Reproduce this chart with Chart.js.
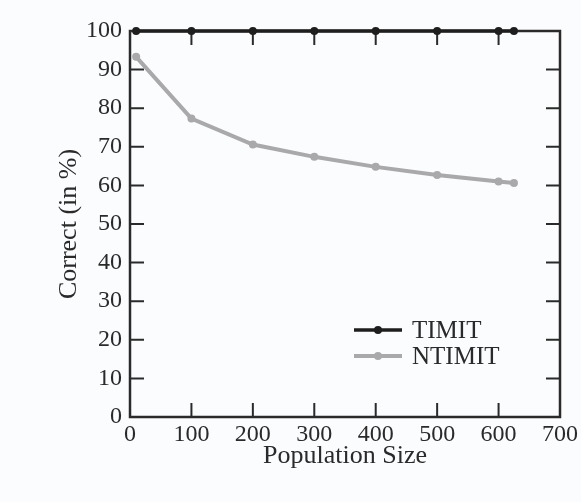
<!DOCTYPE html>
<html>
<head>
<meta charset="utf-8">
<script src="https://cdn.jsdelivr.net/npm/chart.js@4/dist/chart.umd.min.js"></script>
<style>
  html, body { margin: 0; padding: 0; background: #fbfcfe; }
  #wrap { position: relative; width: 581px; height: 502px; }
</style>
</head>
<body>
<div id="wrap"><canvas id="chart"></canvas></div>
<script>
// population sizes tested (x) and recognition rates (y, %)
const populationSizes = [10, 100, 200, 300, 400, 500, 600, 625];
const timitCorrect = [100, 100, 100, 100, 100, 100, 100, 100];
const ntimitCorrect = [93.3, 77.3, 70.6, 67.4, 64.8, 62.7, 61.0, 60.6];

const SERIF = "'Liberation Serif', 'Times New Roman', serif";
const INK = '#2a2a2a';

function toPoints(ys) {
  return populationSizes.map((x, i) => ({ x, y: ys[i] }));
}

// background + boxed frame with inward ticks on all four sides
const framePlugin = {
  id: 'frame',
  beforeDraw(chart) {
    const { ctx, width, height } = chart;
    ctx.save();
    ctx.fillStyle = '#fbfcfe';
    ctx.fillRect(0, 0, width, height);
    ctx.restore();
  },
  beforeDatasetsDraw(chart) {
    const { ctx, chartArea: a, scales: { x, y } } = chart;
    const len = 14;
    ctx.save();
    ctx.strokeStyle = INK;
    ctx.lineWidth = 2;
    ctx.beginPath();
    x.ticks.forEach((t) => {
      const px = x.getPixelForValue(t.value);
      ctx.moveTo(px, a.bottom); ctx.lineTo(px, a.bottom - len);
      ctx.moveTo(px, a.top); ctx.lineTo(px, a.top + len);
    });
    y.ticks.forEach((t) => {
      const py = y.getPixelForValue(t.value);
      ctx.moveTo(a.left, py); ctx.lineTo(a.left + len, py);
      ctx.moveTo(a.right, py); ctx.lineTo(a.right - len, py);
    });
    ctx.stroke();
    ctx.lineWidth = 2.5;
    ctx.strokeRect(a.left, a.top, a.right - a.left, a.bottom - a.top);
    ctx.restore();
  },
};

// legend drawn inside the plot, line with centred marker like the original
const legendPlugin = {
  id: 'innerLegend',
  afterDatasetsDraw(chart) {
    const { ctx, chartArea: a } = chart;
    const x0 = a.right - 206, x1 = a.right - 158;
    ctx.save();
    ctx.font = `25px ${SERIF}`;
    ctx.textBaseline = 'middle';
    chart.data.datasets.forEach((ds, i) => {
      const yy = a.bottom - 87 + i * 26;
      ctx.strokeStyle = ds.borderColor;
      ctx.lineWidth = ds.borderWidth;
      ctx.beginPath();
      ctx.moveTo(x0, yy); ctx.lineTo(x1, yy);
      ctx.stroke();
      ctx.fillStyle = ds.pointBackgroundColor;
      ctx.beginPath();
      ctx.arc((x0 + x1) / 2, yy, ds.pointRadius, 0, Math.PI * 2);
      ctx.fill();
      ctx.fillStyle = INK;
      ctx.fillText(ds.label, x1 + 10, yy + 1);
    });
    ctx.restore();
  },
};

new Chart(document.getElementById('chart'), {
  type: 'line',
  data: {
    datasets: [
      {
        label: 'TIMIT',
        data: toPoints(timitCorrect),
        borderColor: '#1e1e1e',
        backgroundColor: '#1e1e1e',
        pointBackgroundColor: '#1e1e1e',
        borderWidth: 3.5,
        pointRadius: 4,
        pointBorderWidth: 0,
        tension: 0,
        clip: false,
      },
      {
        label: 'NTIMIT',
        data: toPoints(ntimitCorrect),
        borderColor: '#a9a9ab',
        backgroundColor: '#a9a9ab',
        pointBackgroundColor: '#a9a9ab',
        borderWidth: 4,
        pointRadius: 4,
        pointBorderWidth: 0,
        tension: 0,
        clip: false,
      },
    ],
  },
  options: {
    responsive: true,
    maintainAspectRatio: false,
    animation: false,
    layout: { padding: { left: 50, right: 20, top: 31, bottom: 26 } },
    plugins: { legend: { display: false }, tooltip: { enabled: false } },
    scales: {
      x: {
        type: 'linear',
        min: 0,
        max: 700,
        grid: { display: false, drawTicks: false },
        border: { display: false },
        ticks: { stepSize: 100, color: INK, padding: 3, font: { family: SERIF, size: 24 } },
        title: {
          display: true,
          text: 'Population Size',
          color: INK,
          font: { family: SERIF, size: 26 },
          padding: { top: 0, bottom: 4 },
        },
        afterFit(scale) { scale.height = 59; },
      },
      y: {
        min: 0,
        max: 100,
        grid: { display: false, drawTicks: false },
        border: { display: false },
        ticks: { stepSize: 10, color: INK, padding: 8, font: { family: SERIF, size: 24 } },
        title: {
          display: true,
          text: 'Correct (in %)',
          color: INK,
          font: { family: SERIF, size: 26 },
          padding: { top: 4, bottom: 0 },
        },
        afterFit(scale) { scale.width = 80; },
      },
    },
  },
  plugins: [framePlugin, legendPlugin],
});
</script>
</body>
</html>
